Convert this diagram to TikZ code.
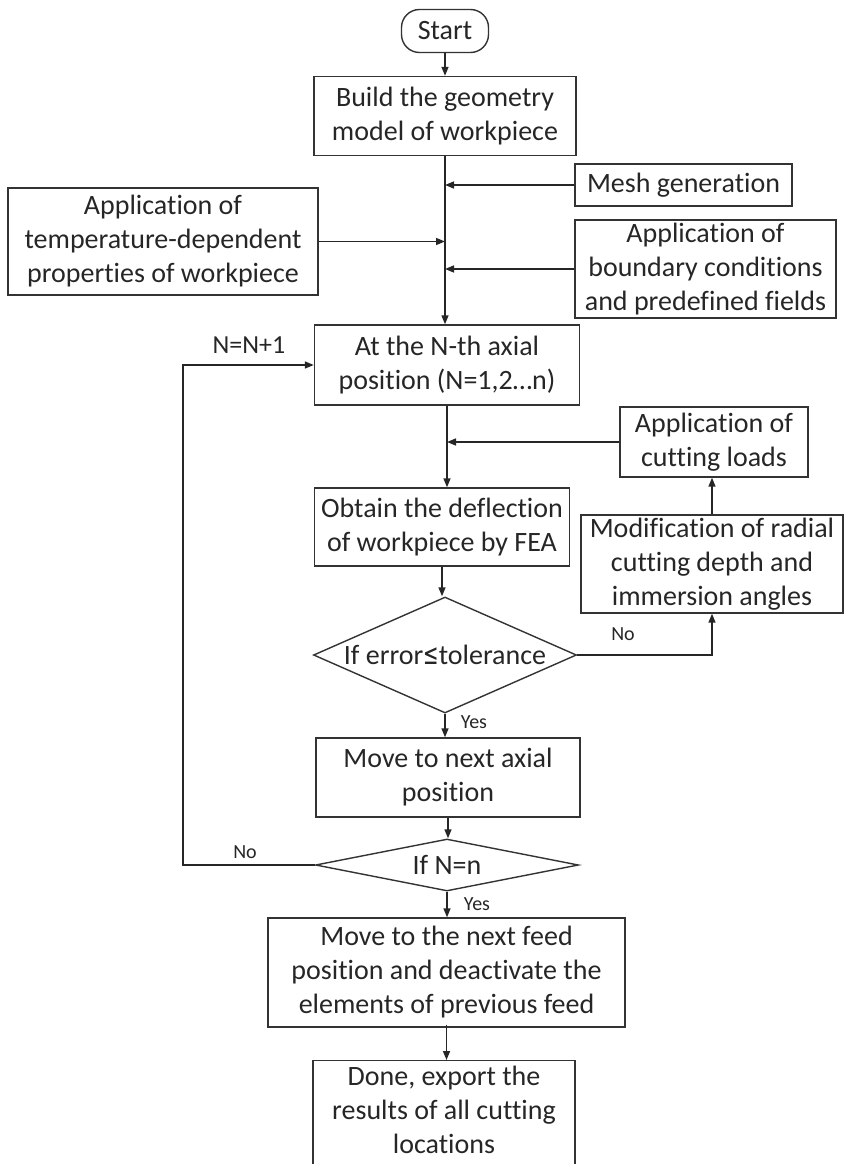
\documentclass[tikz,border=0pt]{standalone}
\usepackage{fontspec}
\usepackage{graphicx}
\setmainfont{Carlito}[Ligatures={NoCommon}]
\newfontfamily\symfont{DejaVu Sans}
\usetikzlibrary{arrows.meta,shapes.geometric}
\begin{document}
\begin{tikzpicture}[x=1pt,y=-1pt,
  every node/.style={font=\fontsize{28}{34}\selectfont, text=black!85},
  box/.style={draw=black!80, line width=1.4pt, rectangle, align=center, inner sep=0pt},
  dia/.style={draw=black!80, line width=1.4pt, diamond, inner sep=0pt},
  lab/.style={font=\fontsize{20}{24}\selectfont, inner sep=0pt},
  arr/.style={draw=black!85, line width=1.5pt, -{Triangle[length=9pt,width=7pt]}},
  ln/.style={draw=black!85, line width=1.5pt}]
\useasboundingbox (0,0) rectangle (845,1164);
\clip (0,0) rectangle (845,1164);
\node[box, rounded corners=18pt, minimum width=87pt, minimum height=43pt] (start) at (445,31) {Start};
\node[box, minimum width=262pt, minimum height=79pt] (build) at (445,116) {Build the geometry\\model of workpiece};
\node[box, minimum width=217pt, minimum height=42pt] (mesh) at (683.5,185) {Mesh generation};
\node[box, minimum width=310pt, minimum height=107pt] (temp) at (163,241.5) {Application of\\temperature-dependent\\properties of workpiece};
\node[box, minimum width=261pt, minimum height=98pt] (bound) at (705.5,269) {Application of\\boundary conditions\\and predefined fields};
\node[box, minimum width=265pt, minimum height=80pt] (nth) at (447,365) {At the N-th axial\\position (N=1,2…n)};
\node[box, minimum width=188pt, minimum height=70pt] (cut) at (714,442) {Application of\\cutting loads};
\node[box, minimum width=255pt, minimum height=78pt] (obt) at (442,527) {Obtain the deflection\\of workpiece by FEA};
\node[box, minimum width=262pt, minimum height=98pt] (mod) at (712,564) {Modification of radial\\cutting depth and\\immersion angles};
\node[dia, minimum width=263pt, minimum height=116pt] (d1) at (445,655) {};
\node (d1t) at (d1.center) {If error{\symfont\fontsize{23}{23}\selectfont\scalebox{0.8}[1.25]{≤}}tolerance};
\node[box, minimum width=264pt, minimum height=79pt] (move) at (448,777.5) {Move to next axial\\position};
\node[dia, minimum width=263pt, minimum height=52pt] (d2) at (447,865) {};
\node (d2t) at (d2.center) {If N=n};
\node[box, minimum width=357pt, minimum height=109pt] (feed) at (446.5,972.5) {Move to the next feed\\position and deactivate the\\elements of previous feed};
\node[box, minimum width=262pt, minimum height=150pt, anchor=north] (done) at (444,1060) {};
\node[anchor=north, align=center] (donet) at (444,1063) {Done, export the\\results of all cutting\\locations};
\node[lab, font=\fontsize{26}{30}\selectfont] (nn) at (249,345) {N=N+1};
\node[lab] (no1) at (623,634) {No};
\node[lab] (yes1) at (474,722) {Yes};
\node[lab] (no2) at (245,852) {No};
\node[lab] (yes2) at (477,904) {Yes};
\coordinate (lp) at (183,865);
\draw[arr] (start) -- (build);
\draw[arr] (build) -- (build.south |- nth.north);
\draw[arr] (mesh.west) -- (mesh.west -| build.south);
\draw[arr] (temp.east) -- (temp.east -| build.south);
\draw[arr] (bound.west) -- (bound.west -| build.south);
\draw[arr] (nth.south) -- (nth.south |- obt.north);
\draw[arr] (cut.west) -- (cut.west -| nth.south);
\draw[arr] (obt.south) -- (obt.south |- d1.north);
\draw[arr] (d1.east) -| (mod.south);
\draw[arr] (mod.north) -- (mod.north |- cut.south);
\draw[arr] (d1.south) -- (d1.south |- move.north);
\draw[arr] (move.south) -- (move.south |- d2.north);
\draw[arr] (d2.west) -- (lp) |- (nth.west);
\draw[arr] (d2.south) -- (d2.south |- feed.north);
\draw[arr] ([yshift=3pt]feed.south) -- (feed.south |- done.north);
\end{tikzpicture}
\end{document}
